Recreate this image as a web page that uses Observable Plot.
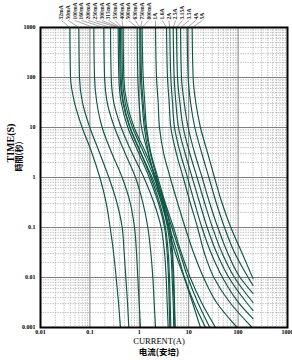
<!DOCTYPE html>
<html>
<head>
<meta charset="utf-8">
<script src="https://cdn.jsdelivr.net/npm/d3@7"></script>
<script src="https://cdn.jsdelivr.net/npm/@observablehq/plot@0.6"></script>
<style>
  html, body { margin: 0; padding: 0; background: #fff; }
  #chart { width: 292px; height: 360px; }
</style>
</head>
<body>
<div id="chart"></div>
<script>
// Time levels (s) at which each curve's current was read
const times = [1000, 100, 31.6, 10, 3.16, 1, 0.316, 0.1, 0.0316, 0.01, 0.00316, 0.001];

// Fuse ratings (curve labels)
const ratings = ["32mA","50mA","100mA","160mA","200mA","250mA","300mA","315mA","350mA","400mA",
  "500mA","630mA","750mA","800mA","1A","1.6A","2A","2.5A","3.15A","3.5A","4A","5A"];

// Current (A) of each curve at the time levels above
const currents = [
  [0.0393,0.0405,0.0488,0.0697,0.109,0.159,0.213,0.257,0.301,0.340,0.379,0.416],
  [0.0597,0.0615,0.0708,0.0997,0.156,0.242,0.351,0.450,0.494,0.533,0.577,0.614],
  [0.120,0.124,0.138,0.177,0.274,0.450,0.653,0.800,0.877,0.933,0.993,1.057],
  [0.191,0.198,0.224,0.315,0.509,0.838,1.18,1.49,1.71,1.88,2.00,2.13],
  [0.261,0.270,0.305,0.430,0.706,1.24,1.97,2.77,3.24,3.50,3.66,3.84],
  [0.373,0.386,0.430,0.586,0.964,1.585,2.41,3.24,3.66,3.90,4.03,4.15],
  [0.397,0.410,0.465,0.643,1.057,1.71,2.56,3.39,3.84,4.08,4.22,4.35],
  [0.416,0.430,0.479,0.653,1.07,1.82,2.81,3.72,4.35,4.62,4.85,5.00],
  [0.443,0.457,0.518,0.728,1.22,2.00,3.04,3.96,4.56,4.85,5.08,5.24],
  [0.471,0.486,0.560,0.787,1.34,2.16,3.24,4.22,4.70,5.00,5.16,5.32],
  [0.906,0.933,0.993,1.11,1.49,2.09,2.95,3.84,5.32,8.09,11.9,17.3],
  [1.03,1.057,1.14,1.26,1.53,2.06,2.81,4.08,5.85,8.22,12.7,21.9],
  [1.07,1.11,1.20,1.34,1.66,2.26,3.14,4.56,6.62,9.59,15.3,26.8],
  [1.14,1.20,1.29,1.40,1.71,2.37,3.34,4.92,7.05,10.7,18.2,34.9],
  [2.13,2.23,2.41,2.56,3.09,4.22,5.93,8.47,12.5,19.95,36.6,95.7],
  [3.56,3.72,4.03,4.35,5.57,7.73,10.7,15.1,20.6,32.3,68.1,192.8],
  [4.15,4.35,4.70,5.16,6.71,9.46,13.1,18.5,28.1,48.3,102],
  [4.85,5.08,5.50,6.22,8.36,11.75,16.6,23.7,36.6,64.9,148],
  [5.66,5.93,6.62,7.73,10.4,14.8,20.9,30.3,46.9,84.5],
  [6.82,7.15,8.09,9.75,13.1,18.7,26.4,38.9,61.0,110],
  [9.31,9.75,10.9,13.3,18.2,25.6,36.0,53.1,84.5,160],
  [11.75,12.3,13.9,17.3,24.0,33.3,46.9,71.3,119]
];

// Curves cut off at the 200 A end of the data: time (s) where they stop
const edgeCurrent = 200;
const edgeEndTime = [null,null,null,null,null,null,null,null,null,null,null,null,null,null,null,null,
  0.00151,0.00219,0.00316,0.00479,0.00692,0.00955];

// Axis ticks
const xTicks = [0.01, 0.1, 1, 10, 100, 1000];
const xTickLabels = ["0.01", "0.1", "1", "10", "100", "1000"];
const yTicks = [0.001, 0.01, 0.1, 1, 10, 100, 1000];
const yTickLabels = ["0.001", "0.01", "0.1", "1", "10", "100", "1000"];
const minorSteps = [2, 3, 4, 5, 6, 7, 8, 9];

// Build tables
const rows = ratings.flatMap((r, i) => {
  const pts = currents[i].map((c, j) => ({curve: r, I: c, t: times[j]}));
  if (edgeEndTime[i] != null) pts.push({curve: r, I: edgeCurrent, t: edgeEndTime[i]});
  return pts;
});
const minorX = xTicks.slice(0, -1).flatMap(d => minorSteps.map(m => d * m));
const minorY = yTicks.slice(0, -1).flatMap(d => minorSteps.map(m => d * m));

// label placement along the top (spread evenly in log space)
const labelLo = 0.0266, labelHi = 19;
const n = ratings.length;
const labels = ratings.map((r, i) => ({
  r,
  top: currents[i][0],
  pos: labelLo * Math.pow(labelHi / labelLo, i / (n - 1))
}));

const serif = "Liberation Serif, Times New Roman, serif";
const green = "#0f5646";

const chart = Plot.plot({
  width: 292,
  height: 360,
  marginLeft: 40,
  marginRight: 5,
  marginTop: 27,
  marginBottom: 33,
  style: {fontFamily: serif, background: "#fff", color: "#000"},
  x: {type: "log", domain: [0.01, 1000], axis: null},
  y: {type: "log", domain: [0.001, 1000], axis: null},
  marks: [
    Plot.ruleX(minorX, {stroke: "#a0a0a0", strokeWidth: 0.6, strokeDasharray: "1.5,1"}),
    Plot.ruleY(minorY, {stroke: "#a0a0a0", strokeWidth: 0.6, strokeDasharray: "1.5,1"}),
    Plot.ruleX(xTicks, {stroke: "#707070", strokeWidth: 0.9}),
    Plot.ruleY(yTicks, {stroke: "#707070", strokeWidth: 0.9}),
    Plot.line(rows, {x: "I", y: "t", z: "curve", stroke: green, strokeWidth: 1.15, curve: "monotone-y"}),
    Plot.frame({stroke: "#000", strokeWidth: 2}),
    // leader lines from labels to curve tops
    Plot.link(labels, {x1: "pos", y1: 1380, x2: "top", y2: 1000, stroke: "#555", strokeWidth: 0.5}),
    Plot.text(labels, {x: "pos", y: 1445, text: "r", rotate: -90, textAnchor: "start",
      fontSize: 5.6, fontWeight: "bold", fill: "#222"}),
    // tick labels
    Plot.text(yTicks, {x: 0.01, y: d => d, text: (d, i) => yTickLabels[i], textAnchor: "end",
      dx: -5, fontSize: 6, fontWeight: "bold"}),
    Plot.text(xTicks, {x: d => d, y: 0.001, text: (d, i) => xTickLabels[i], dy: 4.5,
      fontSize: 6, fontWeight: "bold"}),
    // axis titles
    Plot.text(["CURRENT(A)"], {frameAnchor: "bottom", dx: -5, dy: 16.5, fontSize: 8.5}),
    Plot.text(["电流(安培)"], {frameAnchor: "bottom", dx: -5, dy: 27.5, fontSize: 8.5, fontWeight: "bold",
      fontFamily: "Noto Sans CJK SC"}),
    Plot.text(["TIME(S)"], {frameAnchor: "left", dx: -30, dy: -15, rotate: -90, fontSize: 10,
      fontWeight: "bold"}),
    Plot.text(["時間(秒)"], {frameAnchor: "left", dx: -21, dy: -6, rotate: -90, fontSize: 8,
      fontWeight: "bold", fontFamily: "Noto Sans CJK TC"})
  ]
});
document.getElementById("chart").appendChild(chart);
</script>
</body>
</html>
